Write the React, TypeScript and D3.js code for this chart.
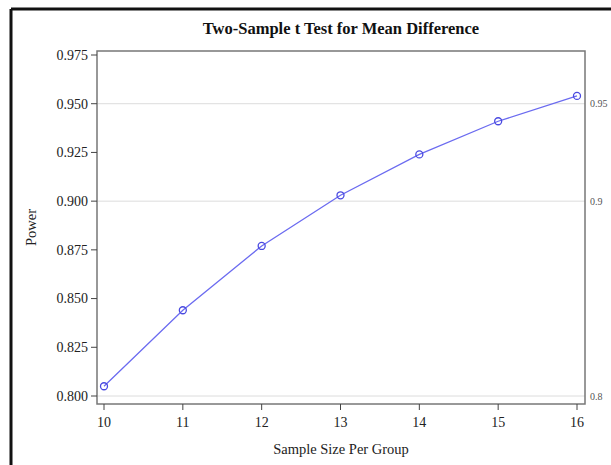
import React from 'react'
import * as d3 from 'd3'

// sample size per group and the power
const sampleSizes = [10, 11, 12, 13, 14, 15, 16]
const power = [0.805, 0.844, 0.877, 0.903, 0.924, 0.941, 0.954]
const leftTicks = [0.8, 0.825, 0.85, 0.875, 0.9, 0.925, 0.95, 0.975]
const rightTicks = [0.8, 0.9, 0.95]

const W = 611
const H = 465
const frame = {left: 97, right: 585, top: 51, bottom: 404}
const font = '"Liberation Serif", "DejaVu Serif", serif'

export default function App() {
  const x = d3.scaleLinear().domain([10, 16]).range([104, 577])
  const y = d3.scaleLinear().domain([0.8, 0.975]).range([396, 55])

  const line = d3.line<number>()
    .x((d, i) => x(sampleSizes[i]))
    .y(d => y(d))

  return (
    <svg width={W} height={H} style={{position: 'absolute', left: 0, top: 0, background: '#fff'}}>
      {/* outer border (top and left only) */}
      <line x1={11} x2={W} y1={9} y2={9} stroke="#111" strokeWidth={3} />
      <line x1={11} x2={11} y1={9} y2={H} stroke="#111" strokeWidth={3} />

      <text x={(frame.left + frame.right) / 2} y={34} textAnchor="middle"
        fontFamily={font} fontWeight="bold" fontSize={16.5} fill="#111">
        Two-Sample t Test for Mean Difference
      </text>

      {/* grid lines at right axis ticks */}
      {rightTicks.map(t => (
        <line key={'g' + t} x1={frame.left} x2={frame.right} y1={y(t)} y2={y(t)}
          stroke="#dcdcdc" strokeWidth={1} />
      ))}

      <rect x={frame.left} y={frame.top} width={frame.right - frame.left}
        height={frame.bottom - frame.top} fill="none" stroke="#777" strokeWidth={1.5} />

      {/* left axis */}
      {leftTicks.map(t => (
        <g key={'l' + t}>
          <line x1={frame.left - 6} x2={frame.left} y1={y(t)} y2={y(t)} stroke="#444" />
          <text x={frame.left - 9} y={y(t)} dy="0.35em" textAnchor="end"
            fontFamily={font} fontSize={14} fill="#222">{d3.format('.3f')(t)}</text>
        </g>
      ))}
      <text transform={`translate(36,${(frame.top + frame.bottom) / 2}) rotate(-90)`}
        textAnchor="middle" fontFamily={font} fontSize={14.5} fill="#222">Power</text>

      {/* right axis */}
      {rightTicks.map(t => (
        <text key={'r' + t} x={frame.right + 5} y={y(t)} dy="0.35em"
          fontFamily={font} fontSize={10} fill="#555">{String(t)}</text>
      ))}

      {/* bottom axis */}
      {sampleSizes.map(s => (
        <g key={'b' + s}>
          <line x1={x(s)} x2={x(s)} y1={frame.bottom} y2={frame.bottom + 6} stroke="#444" />
          <text x={x(s)} y={frame.bottom + 23} textAnchor="middle"
            fontFamily={font} fontSize={14} fill="#222">{s}</text>
        </g>
      ))}
      <text x={(frame.left + frame.right) / 2} y={454} textAnchor="middle"
        fontFamily={font} fontSize={14.5} fill="#222">Sample Size Per Group</text>

      <path d={line(power) || ''} fill="none" stroke="#6b6bf0" strokeWidth={1.3} />
      {power.map((p, i) => (
        <circle key={'c' + i} cx={x(sampleSizes[i])} cy={y(p)} r={3.5}
          fill="none" stroke="#4a4ae0" strokeWidth={1.3} />
      ))}
    </svg>
  )
}
